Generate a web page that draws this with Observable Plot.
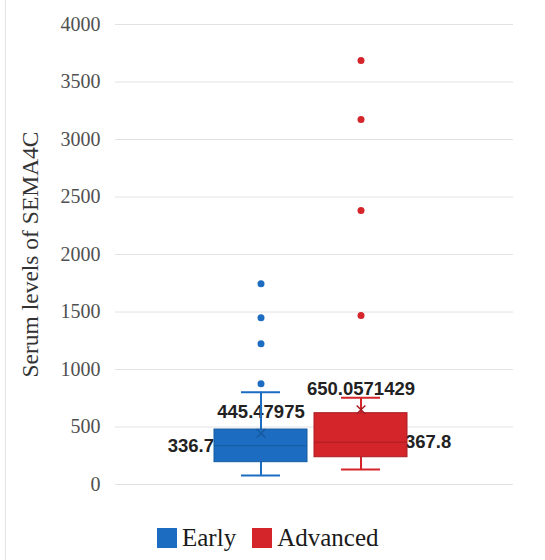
<!DOCTYPE html>
<html>
<head>
<meta charset="utf-8">
<script src="https://cdn.jsdelivr.net/npm/d3@7"></script>
<script src="https://cdn.jsdelivr.net/npm/@observablehq/plot@0.6"></script>
<style>
  html, body { margin: 0; padding: 0; background: #fff; }
  #wrap { position: relative; width: 545px; height: 560px; overflow: hidden; }
  #frame { position: absolute; left: 5px; top: 0; width: 1px; height: 560px; background: #e4e4e4; z-index: 2; }
  #legend { position: absolute; left: 0; top: 515px; width: 545px; height: 45px;
    display: flex; align-items: center; justify-content: flex-start;
    font-family: "Liberation Serif", "Times New Roman", serif; font-size: 25px; color: #1a1a1a; }
  .sw { width: 20px; height: 20px; display: inline-block; margin-right: 5px; }
  .item { display: flex; align-items: center; }
</style>
</head>
<body>
<div id="wrap">
  <div id="frame"></div>
  <div id="chart"></div>
  <div id="legend"></div>
</div>
<script>
const groups = ["Early", "Advanced"];
const lowerWhisker = [78, 130];
const q1 = [194, 237];
const median = [336.7, 367.8];
const q3 = [478, 620];
const upperWhisker = [803, 754];
const mean = [445.47975, 650.0571429];
const meanLabels = ["445.47975", "650.0571429"];
const medianLabels = ["336.7", "367.8"];
const outliersEarly = [876, 1223, 1450, 1745];
const outliersAdvanced = [1470, 2383, 3174, 3687];
const yTicks = [0, 500, 1000, 1500, 2000, 2500, 3000, 3500, 4000];
const yLabel = "Serum levels of SEMA4C";
const fillColors = ["#1c6dc2", "#d4252b"];
const darkColors = ["#175a9f", "#a91d22"];

const boxes = groups.map((g, i) => ({
  group: g, lo: lowerWhisker[i], q1: q1[i], med: median[i], q3: q3[i],
  hi: upperWhisker[i], mean: mean[i], meanLabel: meanLabels[i], medLabel: medianLabels[i],
  dark: darkColors[i]
}));
const outliers = [
  ...outliersEarly.map(v => ({group: "Early", value: v})),
  ...outliersAdvanced.map(v => ({group: "Advanced", value: v}))
];

const labelFont = "Liberation Sans, Arial, sans-serif";

const chart = Plot.plot({
  width: 545,
  height: 515,
  marginTop: 24,
  marginBottom: 31,
  marginLeft: 115,
  marginRight: 32,
  x: { domain: groups, range: [213, 408], paddingInner: 0.0693, paddingOuter: 0, axis: null },
  y: { domain: [0, 4000], ticks: yTicks, label: null },
  color: { domain: groups, range: fillColors },
  style: { fontFamily: "Liberation Serif, serif", background: "#fff" },
  marks: [
    Plot.ruleY(yTicks, { stroke: "#e2e2e2", strokeWidth: 1 }),
    Plot.axisY({
      ticks: yTicks, tickSize: 0, tickPadding: 15, fontSize: 20,
      tickFormat: d => String(d), color: "#505050", label: null
    }),
    Plot.text([yLabel], { frameAnchor: "left", textAnchor: "middle", rotate: -90, dx: -85, fontSize: 23.5,
      fill: "#333", fontFamily: "Liberation Serif, serif" }),
    Plot.text(boxes, { x: "group", y: "med", text: "medLabel",
      textAnchor: "end", dx: -47, fill: "#222", fontWeight: "bold", fontSize: 18.5,
      fontFamily: labelFont, filter: d => d.group === "Early" }),
    Plot.text(boxes, { x: "group", y: "med", text: "medLabel",
      textAnchor: "start", dx: 44, fill: "#222", fontWeight: "bold", fontSize: 18.5,
      fontFamily: labelFont, filter: d => d.group === "Advanced" }),
    Plot.text(boxes, { x: "group", y: "mean", text: "meanLabel", dy: -21,
      fill: "#222", fontWeight: "bold", fontSize: 18.5, fontFamily: labelFont }),
    Plot.ruleX(boxes, { x: "group", y1: "lo", y2: "q1", stroke: "group", strokeWidth: 2 }),
    Plot.ruleX(boxes, { x: "group", y1: "q3", y2: "hi", stroke: "group", strokeWidth: 2 }),
    Plot.tickY(boxes, { x: "group", y: "lo", stroke: "group", strokeWidth: 2, insetLeft: 27, insetRight: 27 }),
    Plot.tickY(boxes, { x: "group", y: "hi", stroke: "group", strokeWidth: 2, insetLeft: 27, insetRight: 27 }),
    Plot.barY(boxes, { x: "group", y1: "q1", y2: "q3", fill: "group", stroke: d => d.dark, strokeWidth: 1 }),
    Plot.tickY(boxes, { x: "group", y: "med", stroke: d => d.dark, strokeWidth: 1 }),
    Plot.dot(boxes, { x: "group", y: "mean", symbol: "times", r: 4, stroke: d => d.dark, strokeWidth: 1.5 }),
    Plot.dot(outliers, { x: "group", y: "value", r: 3.5, fill: "group", stroke: "none" })
  ]
});
document.getElementById("chart").appendChild(chart);

const legend = document.getElementById("legend");
legend.style.paddingLeft = "157px";
groups.forEach((g, i) => {
  const item = document.createElement("div");
  item.className = "item";
  if (i > 0) item.style.marginLeft = "16px";
  const sw = document.createElement("span");
  sw.className = "sw";
  sw.style.background = fillColors[i];
  const t = document.createElement("span");
  t.textContent = g;
  item.appendChild(sw);
  item.appendChild(t);
  legend.appendChild(item);
});
</script>
</body>
</html>
